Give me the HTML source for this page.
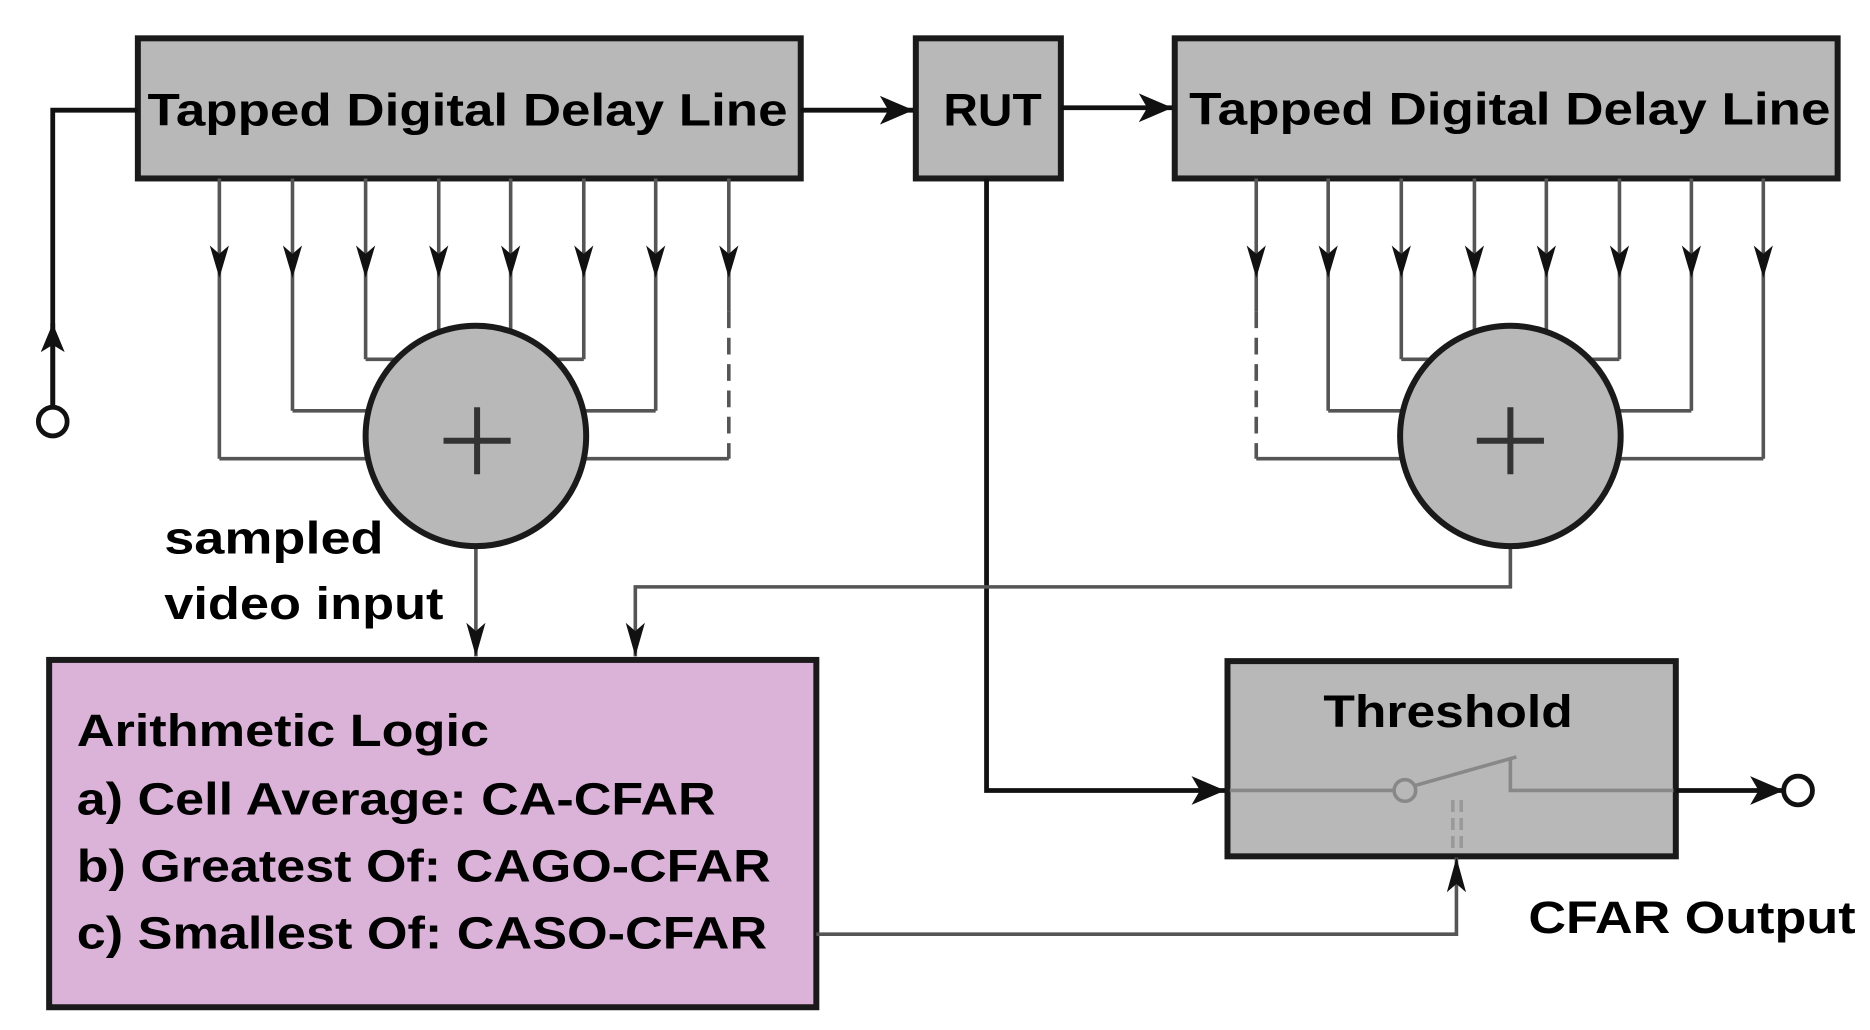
<!DOCTYPE html>
<html><head><style>html,body{margin:0;padding:0;background:#fff}svg{display:block}</style></head>
<body>
<svg width="1870" height="1030" viewBox="0 0 1560 860" preserveAspectRatio="none" xmlns="http://www.w3.org/2000/svg" font-family="Liberation Sans, sans-serif" font-weight="bold">
<defs>
<marker id="a" markerWidth="10" markerHeight="10" refX="9" refY="5" orient="auto" markerUnits="userSpaceOnUse"><path d="M0,0 L10,5 L0,10 L3,5 Z" fill="#111"/></marker>
<marker id="b" markerWidth="30" markerHeight="24" refX="28" refY="12" orient="auto" markerUnits="userSpaceOnUse"><path d="M0,0 L28,12 L0,24 L7,12 Z" fill="#111"/></marker>
<marker id="t" markerWidth="26" markerHeight="20" refX="24" refY="10" orient="auto" markerUnits="userSpaceOnUse"><path d="M0,0 L24,10 L0,20 L6,10 Z" fill="#111"/></marker>
</defs>
<g fill="#b8b8b8" stroke="#1a1a1a" stroke-width="5">
<rect x="115" y="32" width="553" height="117"/>
<rect x="764" y="32" width="121" height="117"/>
<rect x="980" y="32" width="553" height="117"/>
<rect x="1024" y="552" width="374" height="163"/>
</g>
<rect x="41" y="551" width="640" height="290" fill="#dbb3d8" stroke="#1a1a1a" stroke-width="5"/>
<g font-size="38" fill="#000">
<text x="123" y="105" textLength="534" lengthAdjust="spacingAndGlyphs">Tapped Digital Delay Line</text>
<text x="787" y="105" textLength="82" lengthAdjust="spacingAndGlyphs">RUT</text>
<text x="992" y="104" textLength="535" lengthAdjust="spacingAndGlyphs">Tapped Digital Delay Line</text>
<text x="1104" y="607" textLength="208" lengthAdjust="spacingAndGlyphs">Threshold</text>
<text x="137" y="462" textLength="183" lengthAdjust="spacingAndGlyphs">sampled</text>
<text x="137" y="517" textLength="233" lengthAdjust="spacingAndGlyphs">video input</text>
<text x="64" y="623" textLength="344" lengthAdjust="spacingAndGlyphs">Arithmetic Logic</text>
<text x="64" y="680" textLength="533" lengthAdjust="spacingAndGlyphs">a) Cell Average: CA-CFAR</text>
<text x="64" y="736" textLength="579" lengthAdjust="spacingAndGlyphs">b) Greatest Of: CAGO-CFAR</text>
<text x="64" y="792" textLength="576" lengthAdjust="spacingAndGlyphs">c) Smallest Of: CASO-CFAR</text>
<text x="1275" y="779" textLength="273" lengthAdjust="spacingAndGlyphs">CFAR Output</text>
</g>
<!-- input -->
<g stroke="#111" stroke-width="4" fill="none">
<polyline points="115,92 44,92 44,340"/>
<line x1="668" y1="92" x2="762" y2="92" marker-end="url(#b)"/>
<line x1="885" y1="90" x2="978" y2="90" marker-end="url(#b)"/>
<line x1="44" y1="340" x2="44" y2="270" marker-end="url(#t)"/>
<circle cx="44" cy="352" r="12" fill="#fff"/>
<polyline points="823,149 823,660 1022,660" marker-end="url(#b)"/>
<line x1="1398" y1="660" x2="1488" y2="660" marker-end="url(#b)"/>
<circle cx="1500" cy="660" r="12" fill="#fff"/>
</g>
<g stroke="#555" stroke-width="3" fill="none">
<!-- left taps -->
<line x1="183" y1="149" x2="183" y2="383"/><line x1="244" y1="149" x2="244" y2="343"/>
<line x1="305" y1="149" x2="305" y2="300"/><line x1="366" y1="149" x2="366" y2="285"/>
<line x1="426" y1="149" x2="426" y2="285"/><line x1="487" y1="149" x2="487" y2="300"/>
<line x1="547" y1="149" x2="547" y2="343"/><line x1="608" y1="149" x2="608" y2="260"/>
<line x1="608" y1="260" x2="608" y2="383" stroke-dasharray="14,8"/>
<polyline points="183,383 320,383"/><polyline points="475,383 608,383"/>
<polyline points="244,343 320,343"/><polyline points="475,343 547,343"/>
<polyline points="305,300 335,300"/><polyline points="460,300 487,300"/>
<!-- right taps -->
<line x1="1048" y1="149" x2="1048" y2="260"/>
<line x1="1048" y1="260" x2="1048" y2="383" stroke-dasharray="14,8"/>
<line x1="1108" y1="149" x2="1108" y2="343"/><line x1="1169" y1="149" x2="1169" y2="300"/>
<line x1="1230" y1="149" x2="1230" y2="285"/><line x1="1290" y1="149" x2="1290" y2="285"/>
<line x1="1351" y1="149" x2="1351" y2="300"/><line x1="1411" y1="149" x2="1411" y2="343"/>
<line x1="1471" y1="149" x2="1471" y2="383"/>
<polyline points="1048,383 1185,383"/><polyline points="1340,383 1471,383"/>
<polyline points="1108,343 1185,343"/><polyline points="1340,343 1411,343"/>
<polyline points="1169,300 1200,300"/><polyline points="1325,300 1351,300"/>
<polyline points="1260,455 1260,490 530,490 530,548"/>
<line x1="397" y1="455" x2="397" y2="548"/>
<polyline points="681,780 1215,780 1215,716"/>
<!-- switch -->
<line x1="1026" y1="660" x2="1163" y2="660" stroke="#888"/>
<line x1="1180" y1="656" x2="1265" y2="632" stroke="#888"/>
<polyline points="1260,633 1260,660 1396,660" stroke="#888"/>
<circle cx="1172" cy="660" r="9" stroke="#888"/>
<line x1="1212" y1="668" x2="1212" y2="712" stroke="#999" stroke-dasharray="10,5"/>
<line x1="1219" y1="668" x2="1219" y2="712" stroke="#999" stroke-dasharray="10,5"/>
</g>
<!-- tap arrowheads -->
<g fill="#111">
<path d="M175,205 L183,232 L191,205 L183,212Z"/><path d="M236,205 L244,232 L252,205 L244,212Z"/>
<path d="M297,205 L305,232 L313,205 L305,212Z"/><path d="M358,205 L366,232 L374,205 L366,212Z"/>
<path d="M418,205 L426,232 L434,205 L426,212Z"/><path d="M479,205 L487,232 L495,205 L487,212Z"/>
<path d="M539,205 L547,232 L555,205 L547,212Z"/><path d="M600,205 L608,232 L616,205 L608,212Z"/>
<path d="M1040,205 L1048,232 L1056,205 L1048,212Z"/><path d="M1100,205 L1108,232 L1116,205 L1108,212Z"/>
<path d="M1161,205 L1169,232 L1177,205 L1169,212Z"/><path d="M1222,205 L1230,232 L1238,205 L1230,212Z"/>
<path d="M1282,205 L1290,232 L1298,205 L1290,212Z"/><path d="M1343,205 L1351,232 L1359,205 L1351,212Z"/>
<path d="M1403,205 L1411,232 L1419,205 L1411,212Z"/><path d="M1463,205 L1471,232 L1479,205 L1471,212Z"/>
<path d="M389,520 L397,548 L405,520 L397,527Z"/><path d="M522,520 L530,548 L538,520 L530,527Z"/>
<path d="M1207,745 L1215,716 L1223,745 L1215,738Z"/>
</g>
<!-- summers -->
<g fill="#b8b8b8" stroke="#1a1a1a" stroke-width="5">
<ellipse cx="397" cy="364" rx="92" ry="92"/>
<ellipse cx="1260" cy="364" rx="92" ry="92"/>
</g>
<g stroke="#333" stroke-width="5">
<line x1="370" y1="368" x2="426" y2="368"/><line x1="398" y1="340" x2="398" y2="396"/>
<line x1="1232" y1="368" x2="1288" y2="368"/><line x1="1260" y1="340" x2="1260" y2="396"/>
</g>
</svg>
</body></html>
